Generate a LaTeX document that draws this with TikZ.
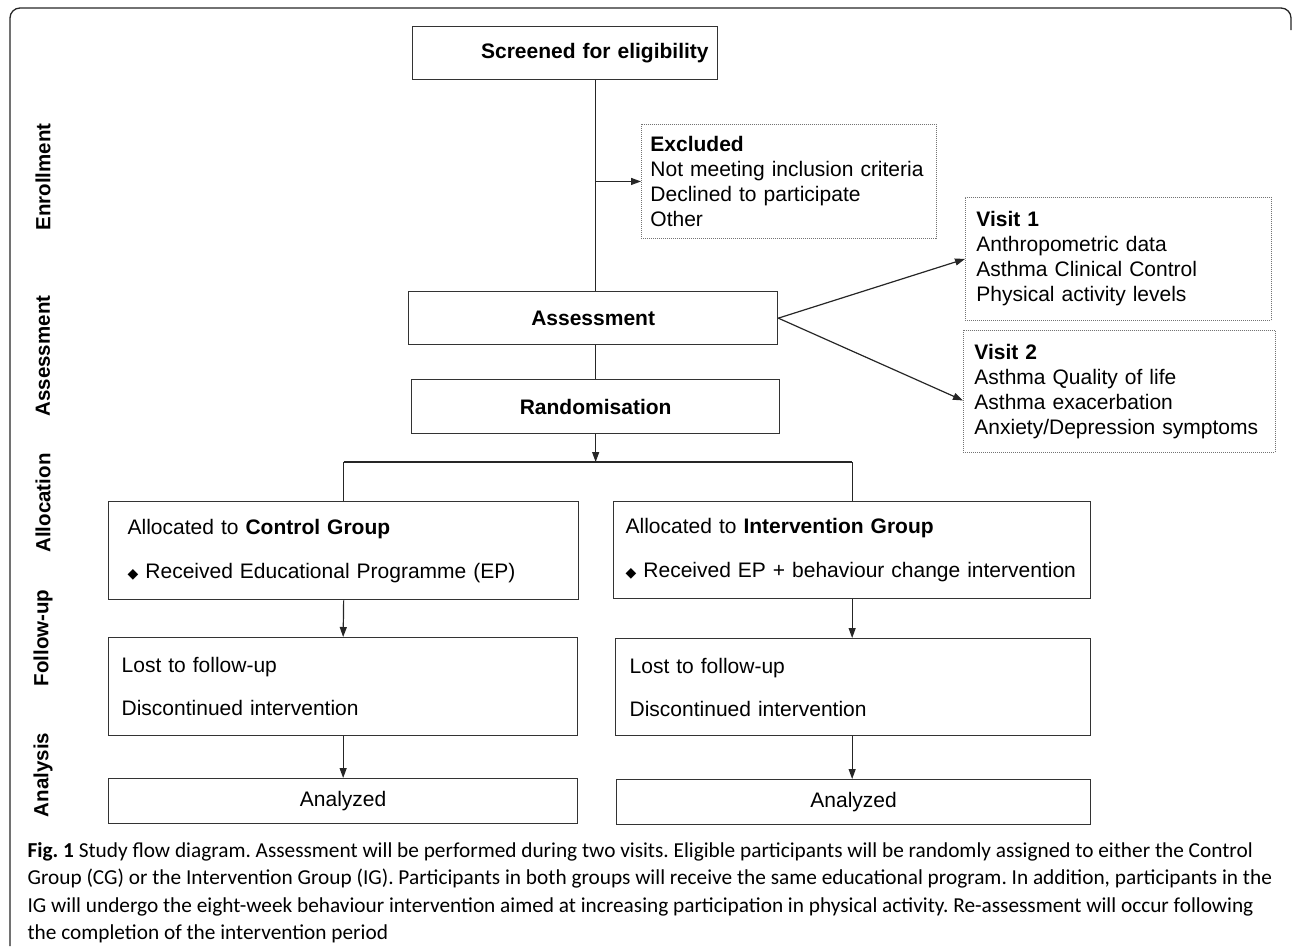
\documentclass[tikz,border=0pt]{standalone}
\usepackage{fontspec}
\setmainfont{Liberation Sans}
\newfontfamily\capfont{Carlito}
\newfontfamily\symfont{DejaVu Sans}
\usepackage{tikz}
\usetikzlibrary{arrows.meta}
\usepackage{xcolor}
\newcommand{\dmd}{{\symfont\fontsize{14}{14}\selectfont ◆}}

\begin{document}
\frenchspacing
\begin{tikzpicture}[x=1pt,y=-1pt,>={Triangle[length=10pt,width=7pt]},line width=1.2pt]
\tikzstyle{box}=[draw=black!80,line width=1.3pt,anchor=north west,align=left,inner ysep=0pt,font=\fontsize{21}{25}\selectfont]
\tikzstyle{titlebox}=[box,font=\fontsize{21}{25}\selectfont\bfseries,align=center]
\tikzstyle{dotbox}=[box,draw=black!55,line width=0.9pt,dash pattern=on 1pt off 1pt]
\tikzstyle{stage}=[rotate=90,font=\fontsize{20.5}{24}\selectfont\bfseries]
\useasboundingbox (0,0) rectangle (1292,946);
  % frame
  \draw[black!85,line width=1.3pt,rounded corners=10pt] (10,946)--(10,8)--(1291,8)--(1291,30);
  % stages
  \node[stage](st-enrol) at (43,177){Enrollment};
  \node[stage](st-assess) at (43,356){Assessment};
  \node[stage](st-alloc) at (43,503){Allocation};
  \node[stage](st-follow) at (43,638){Follow-up};
  \node[stage](st-anal) at (43,775){Analysis};
  % main column
  \node[titlebox,align=right,text width=287,inner xsep=9,minimum height=53](screen) at (412,26){Screened for eligibility};
  \node[dotbox,text width=277,inner xsep=9,minimum height=114](excl) at (641,124){\textbf{Excluded}\\Not meeting inclusion criteria\\Declined to participate\\Other};
  \node[titlebox,minimum width=369,minimum height=53](assess) at (408,291){Assessment};
  \node[titlebox,minimum width=368,minimum height=54](rand) at (411,379){Randomisation};
  \node[dotbox,text width=284,inner xsep=11,minimum height=123](visit1) at (965,197){\textbf{Visit 1}\\Anthropometric data\\Asthma Clinical Control\\Physical activity levels};
  \node[dotbox,text width=290,inner xsep=11,minimum height=122](visit2) at (963,330){\textbf{Visit 2}\\Asthma Quality of life\\Asthma exacerbation\\Anxiety/Depression symptoms};
  % groups
  \node[box,text width=432,inner xsep=19,minimum height=98](cg) at (108,501){Allocated to \textbf{Control Group}\\[19pt]\dmd{} Received Educational Programme (EP)};
  \node[box,text width=453,inner xsep=12,minimum height=97](ig) at (613,501){Allocated to \textbf{Intervention Group}\\[19pt]\dmd{} Received EP + behaviour change intervention};
  \node[box,text width=443,inner xsep=13,minimum height=98](cg-fu) at (108,637){Lost to follow-up\\[18pt]Discontinued intervention};
  \node[box,text width=447,inner xsep=14,minimum height=97](ig-fu) at (615,638){Lost to follow-up\\[18pt]Discontinued intervention};
  \node[box,align=center,minimum width=469,minimum height=45](cg-an) at (108,778){Analyzed};
  \node[box,align=center,minimum width=474,minimum height=45](ig-an) at (616,779){Analyzed};
  \coordinate (split) at (597,462);
  % connectors
  \draw[black!85](screen.south -| rand.north)--(assess.north -| rand.north);
  \draw[black!85,->](excl.west -| rand.north)--(excl.west);
  \draw[black!85](assess.south -| rand.north)--(rand.north);
  \draw[black!85,->](rand.south)--(rand.south |- split);
  \draw[black!85](cg.north |- split)--(ig.north |- split);
  \draw[black!85](cg.north |- split)--(cg.north);
  \draw[black!85](ig.north |- split)--(ig.north);
  \draw[black!85,->](assess.east)--(visit1.west);
  \draw[black!85,->](assess.east)--([yshift=-9pt]visit2.west);
  \draw[black!85,->](cg.south)--(cg-fu.north);
  \draw[black!85,->](cg-fu.south)--(cg-an.north);
  \draw[black!85,->](ig.south)--(ig-fu.north -| ig.south);
  \draw[black!85,->](ig-fu.south -| ig.south)--(ig-an.north -| ig.south);
  % caption
  \node[anchor=north west,inner sep=0pt,align=left,font=\capfont\fontsize{21.3}{27.3}\selectfont](caption) at (27,842){\textbf{Fig. 1} Study flow diagram. Assessment will be performed during two visits. Eligible participants will be randomly assigned to either the Control\\Group (CG) or the Intervention Group (IG). Participants in both groups will receive the same educational program. In addition, participants in the\\IG will undergo the eight-week behaviour intervention aimed at increasing participation in physical activity. Re-assessment will occur following\\the completion of the intervention period};
\end{tikzpicture}
\end{document}
